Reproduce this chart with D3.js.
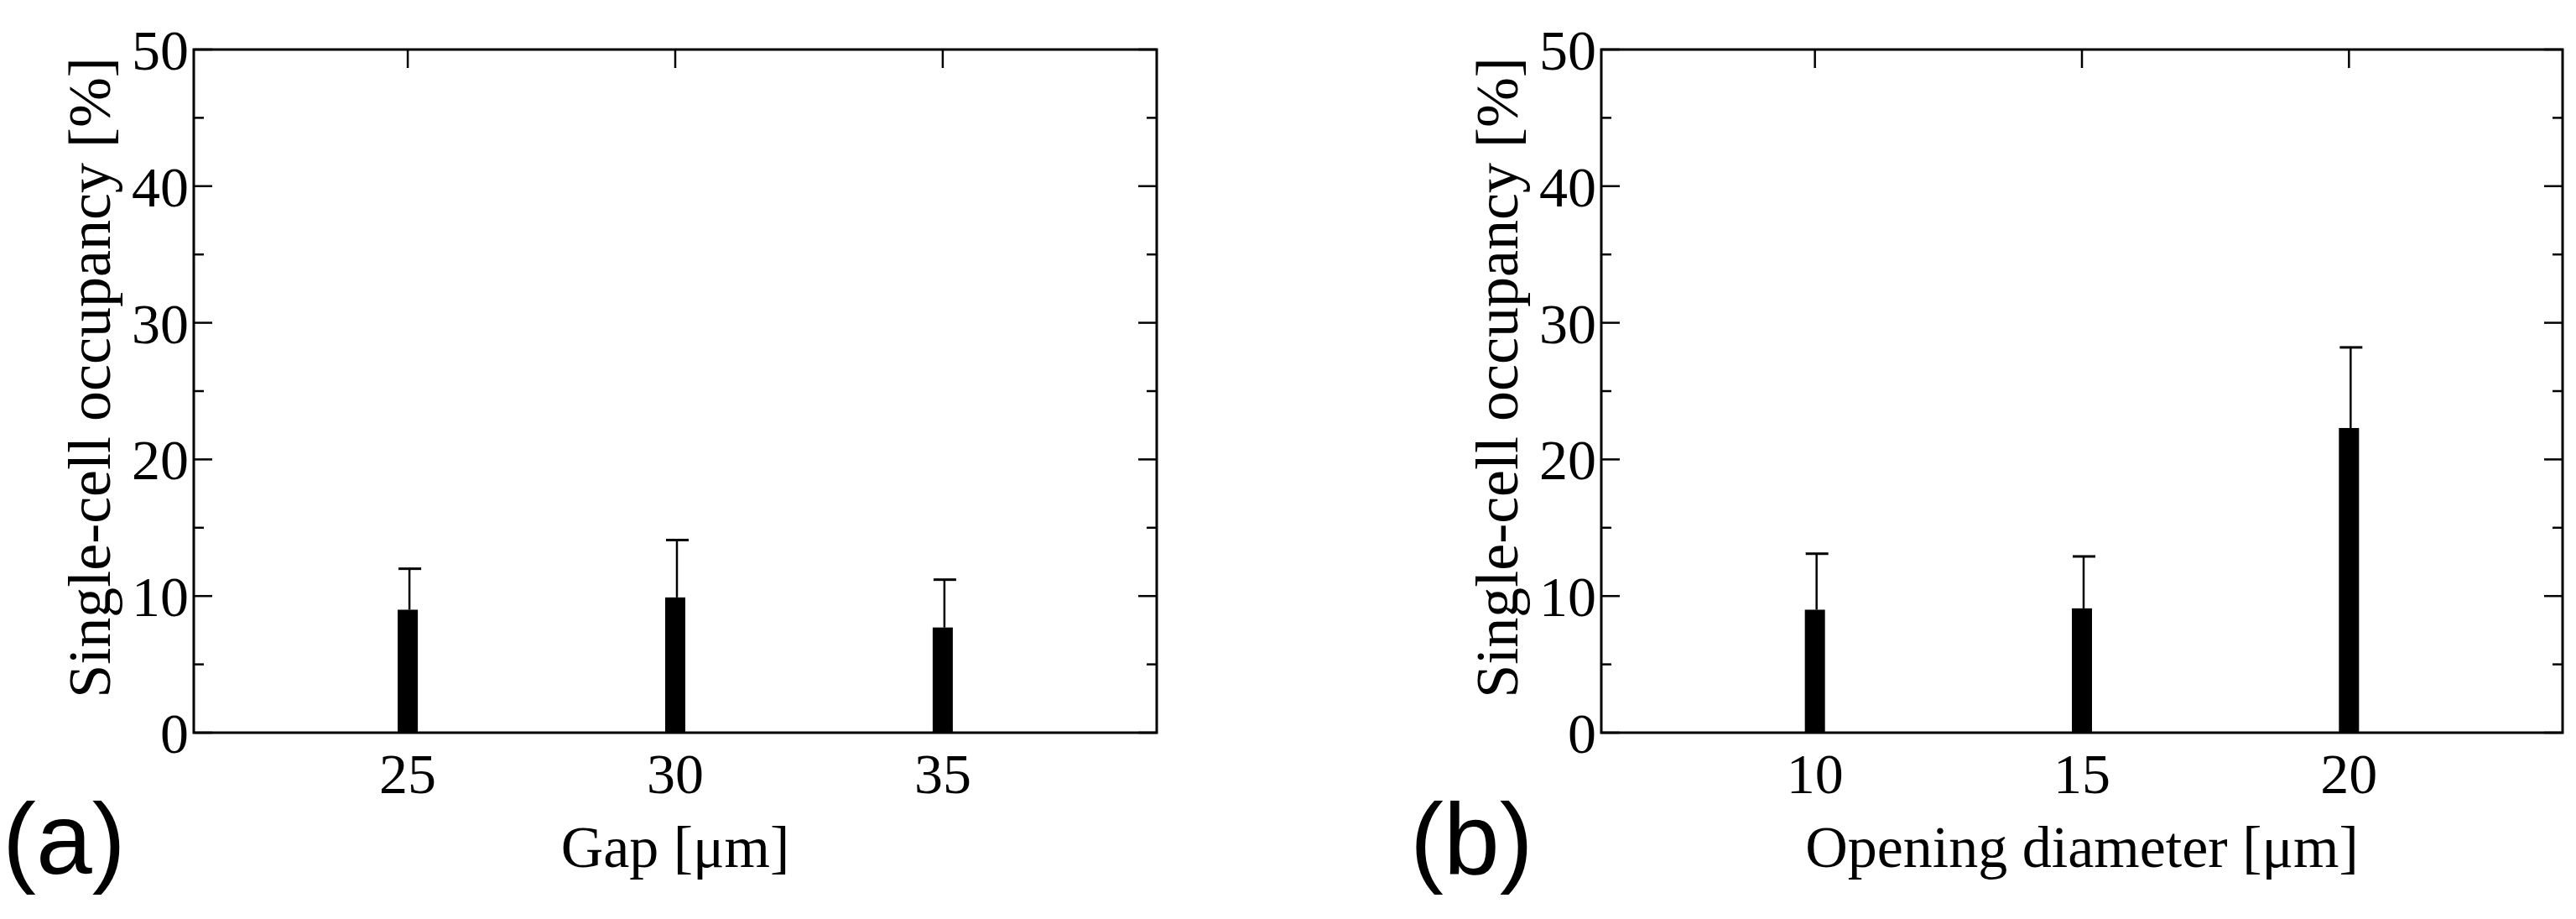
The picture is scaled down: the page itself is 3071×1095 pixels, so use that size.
<!DOCTYPE html>
<html><head><meta charset="utf-8">
<script src="https://cdn.jsdelivr.net/npm/d3@7"></script>
<style>
body{margin:0;background:#fff}
text{font-family:"Liberation Serif","Times New Roman",serif;fill:#000}
text.tag{font-family:"Liberation Sans",Arial,sans-serif}
</style></head>
<body><svg id="chart"></svg>
<script>
const gapCats = [25, 30, 35];
const gapValues = [9.0, 9.9, 7.7];
const gapErrTop = [12.0, 14.1, 11.2];
const diaCats = [10, 15, 20];
const diaValues = [9.0, 9.1, 22.3];
const diaErrTop = [13.1, 12.9, 28.2];
const yTicks = [0, 10, 20, 30, 40, 50];
const yMinor = [5, 15, 25, 35, 45];

const SIZE = { width: 3071, height: 1095 };
const svg = d3.select('#chart').attr('width', SIZE.width).attr('height', SIZE.height);

const drawPanel = function(opts) {
  const { left, right, top, bottom, xDomain, cats, values, errs, xTitle, tag } = opts;
  const x = d3.scaleLinear().domain(xDomain).range([left, right]);
  const y = d3.scaleLinear().domain([0, 50]).range([bottom, top]);
  const g = svg.append('g');

  g.append('rect').attr('x', left).attr('y', top)
    .attr('width', right - left).attr('height', bottom - top)
    .attr('fill', 'none').attr('stroke', '#000').attr('stroke-width', 3);

  // inward ticks on all sides
  const tick = (x1, y1, x2, y2) => g.append('line')
    .attr('x1', x1).attr('y1', y1).attr('x2', x2).attr('y2', y2)
    .attr('stroke', '#000').attr('stroke-width', 2.5);
  yTicks.forEach(v => { tick(left, y(v), left + 22, y(v)); tick(right, y(v), right - 22, y(v)); });
  yMinor.forEach(v => { tick(left, y(v), left + 12, y(v)); tick(right, y(v), right - 12, y(v)); });
  cats.forEach(c => { tick(x(c), top, x(c), top + 22); tick(x(c), bottom, x(c), bottom - 22); });

  g.selectAll('.yl').data(yTicks).join('text')
    .attr('x', left - 6).attr('y', d => y(d) + 24)
    .attr('text-anchor', 'end').attr('font-size', 68).text(d => d);
  g.selectAll('.xl').data(cats).join('text')
    .attr('x', d => x(d)).attr('y', bottom + 72)
    .attr('text-anchor', 'middle').attr('font-size', 68).text(d => d);

  // error bars
  cats.forEach((c, i) => {
    g.append('line').attr('x1', x(c) + 2).attr('x2', x(c) + 2)
      .attr('y1', y(values[i])).attr('y2', y(errs[i]))
      .attr('stroke', '#000').attr('stroke-width', 2.5);
    g.append('line').attr('x1', x(c) - 11).attr('x2', x(c) + 16)
      .attr('y1', y(errs[i])).attr('y2', y(errs[i]))
      .attr('stroke', '#000').attr('stroke-width', 3);
  });
  g.selectAll('.bar').data(cats).join('rect')
    .attr('x', d => x(d) - 12).attr('width', 24)
    .attr('y', (d, i) => y(values[i]))
    .attr('height', (d, i) => bottom - y(values[i]))
    .attr('fill', '#000');

  g.append('text').attr('x', (left + right) / 2).attr('y', bottom + 160)
    .attr('text-anchor', 'middle').attr('font-size', 70).text(xTitle);
  g.append('text')
    .attr('transform', `translate(${left - 100},${(top + bottom) / 2 - 16}) rotate(-90)`)
    .attr('text-anchor', 'middle').attr('font-size', 72)
    .text('Single-cell occupancy [%]');
  g.append('text').attr('class', 'tag').attr('x', left - 228).attr('y', bottom + 168)
    .attr('font-size', 120).text(tag);
};

drawPanel({ left: 231, right: 1379, top: 59, bottom: 873, xDomain: [21, 39],
  cats: gapCats, values: gapValues, errs: gapErrTop, xTitle: 'Gap [μm]', tag: '(a)' });
drawPanel({ left: 1909, right: 3055, top: 59, bottom: 873, xDomain: [6, 24],
  cats: diaCats, values: diaValues, errs: diaErrTop, xTitle: 'Opening diameter [μm]', tag: '(b)' });
</script></body></html>
